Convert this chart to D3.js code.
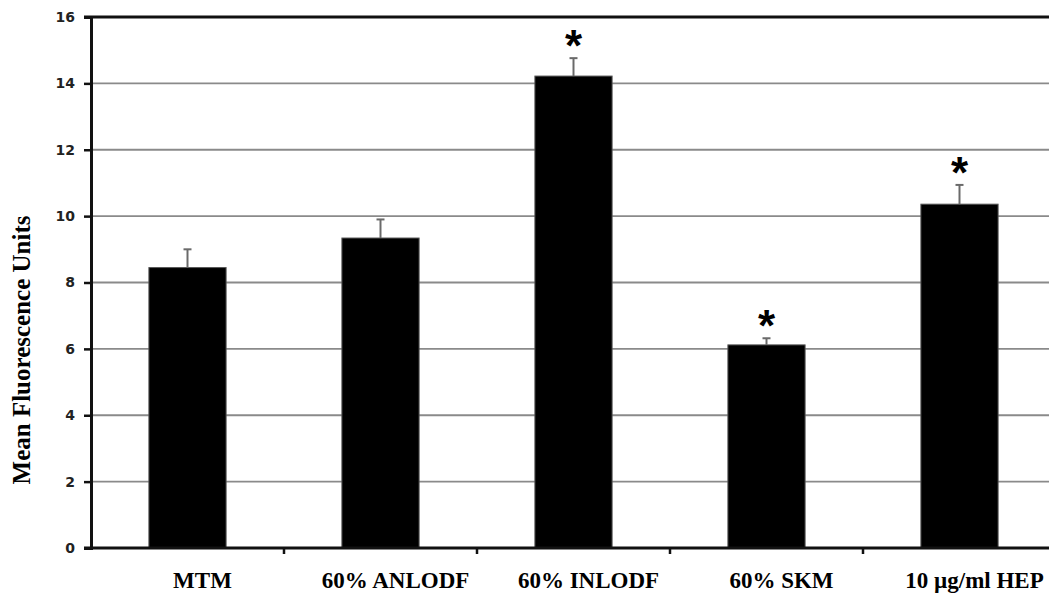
<!DOCTYPE html>
<html>
<head>
<meta charset="utf-8">
<script src="https://cdn.jsdelivr.net/npm/d3@7"></script>
<style>
  html, body { margin: 0; padding: 0; background: #fff; }
  svg { display: block; }
</style>
</head>
<body>
<svg id="chart" width="1049" height="595"></svg>
<script>
// Mean fluorescence per treatment group, with error (SEM) and significance flags
const categories = ["MTM", "60% ANLODF", "60% INLODF", "60% SKM", "10 \u00b5g/ml HEP"];
const means = [8.45, 9.34, 14.22, 6.12, 10.36];
const errors = [0.55, 0.56, 0.54, 0.2, 0.58];
const significant = [false, false, true, true, true];
const yTicks = [0, 2, 4, 6, 8, 10, 12, 14, 16];

const svg = d3.select("#chart");
const W = 1049, H = 595;
const margin = { left: 91, top: 17, bottom: 47 };

const x = d3.scaleBand()
  .domain(categories)
  .range([margin.left, margin.left + 965])
  .paddingInner(0.6)
  .paddingOuter(0.3);

const y = d3.scaleLinear()
  .domain([0, 16])
  .range([H - margin.bottom, margin.top]);

// horizontal gridlines
svg.append("g")
  .selectAll("line")
  .data(yTicks.filter(t => t > 0 && t < 16))
  .join("line")
  .attr("x1", margin.left)
  .attr("x2", W)
  .attr("y1", d => y(d))
  .attr("y2", d => y(d))
  .attr("stroke", "#8a8a8a")
  .attr("stroke-width", 1.8);

// top border line
svg.append("line")
  .attr("x1", margin.left - 7).attr("x2", W)
  .attr("y1", y(16)).attr("y2", y(16))
  .attr("stroke", "#111").attr("stroke-width", 3);

// bars
svg.append("g")
  .selectAll("rect")
  .data(categories)
  .join("rect")
  .attr("x", d => x(d))
  .attr("width", x.bandwidth())
  .attr("y", (d, i) => y(means[i]))
  .attr("height", (d, i) => y(0) - y(means[i]))
  .attr("fill", "#000")
  .attr("stroke", "#555")
  .attr("stroke-width", 1);

// error bars
const eb = svg.append("g").attr("stroke", "#6a6a6a").attr("stroke-width", 2);
categories.forEach((c, i) => {
  const cx = x(c) + x.bandwidth() / 2;
  eb.append("line")
    .attr("x1", cx).attr("x2", cx)
    .attr("y1", y(means[i])).attr("y2", y(means[i] + errors[i]));
  eb.append("line")
    .attr("x1", cx - 4).attr("x2", cx + 4)
    .attr("y1", y(means[i] + errors[i])).attr("y2", y(means[i] + errors[i]));
});

// significance asterisks above the error caps
svg.append("g")
  .selectAll("text")
  .data(categories.map((c, i) => i).filter(i => significant[i]))
  .join("text")
  .attr("x", i => x(categories[i]) + x.bandwidth() / 2)
  .attr("y", i => y(means[i] + errors[i]) + 3)
  .attr("text-anchor", "middle")
  .attr("font-family", "Liberation Sans, Arial, sans-serif")
  .attr("font-weight", "bold")
  .attr("font-size", 44)
  .attr("fill", "#000")
  .text("*");

// y axis
const yAxis = d3.axisLeft(y)
  .tickValues(yTicks)
  .tickSize(7)
  .tickPadding(9)
  .tickFormat(d3.format("d"));

const gy = svg.append("g")
  .attr("transform", `translate(${margin.left},0)`)
  .call(yAxis);
gy.select(".domain").attr("stroke", "#111").attr("stroke-width", 3);
gy.selectAll(".tick line").attr("stroke", "#111").attr("stroke-width", 2.5);
gy.selectAll(".tick text")
  .attr("font-family", "DejaVu Sans, sans-serif")
  .attr("font-weight", "bold")
  .attr("font-size", 14)
  .attr("fill", "#222");

// x axis line with boundary ticks
svg.append("line")
  .attr("x1", margin.left - 7).attr("x2", W)
  .attr("y1", y(0)).attr("y2", y(0))
  .attr("stroke", "#111").attr("stroke-width", 3);

const boundaries = categories.slice(1).map(c => x(c) - x.step() * x.paddingInner() / 2);
svg.append("g")
  .selectAll("line")
  .data(boundaries)
  .join("line")
  .attr("x1", d => d).attr("x2", d => d)
  .attr("y1", y(0)).attr("y2", y(0) + 6)
  .attr("stroke", "#111").attr("stroke-width", 2.5);

// category labels
svg.append("g")
  .selectAll("text")
  .data(categories)
  .join("text")
  .attr("x", d => x(d) + x.bandwidth() / 2 + 15)
  .attr("y", 588)
  .attr("text-anchor", "middle")
  .attr("font-family", "Liberation Serif, Times New Roman, serif")
  .attr("font-weight", "bold")
  .attr("font-size", 23)
  .attr("fill", "#000")
  .text(d => d);

// y axis title
svg.append("text")
  .attr("transform", `translate(30,350) rotate(-90)`)
  .attr("text-anchor", "middle")
  .attr("font-family", "Liberation Serif, Times New Roman, serif")
  .attr("font-weight", "bold")
  .attr("font-size", 25)
  .attr("fill", "#000")
  .text("Mean Fluorescence Units");
</script>
</body>
</html>
